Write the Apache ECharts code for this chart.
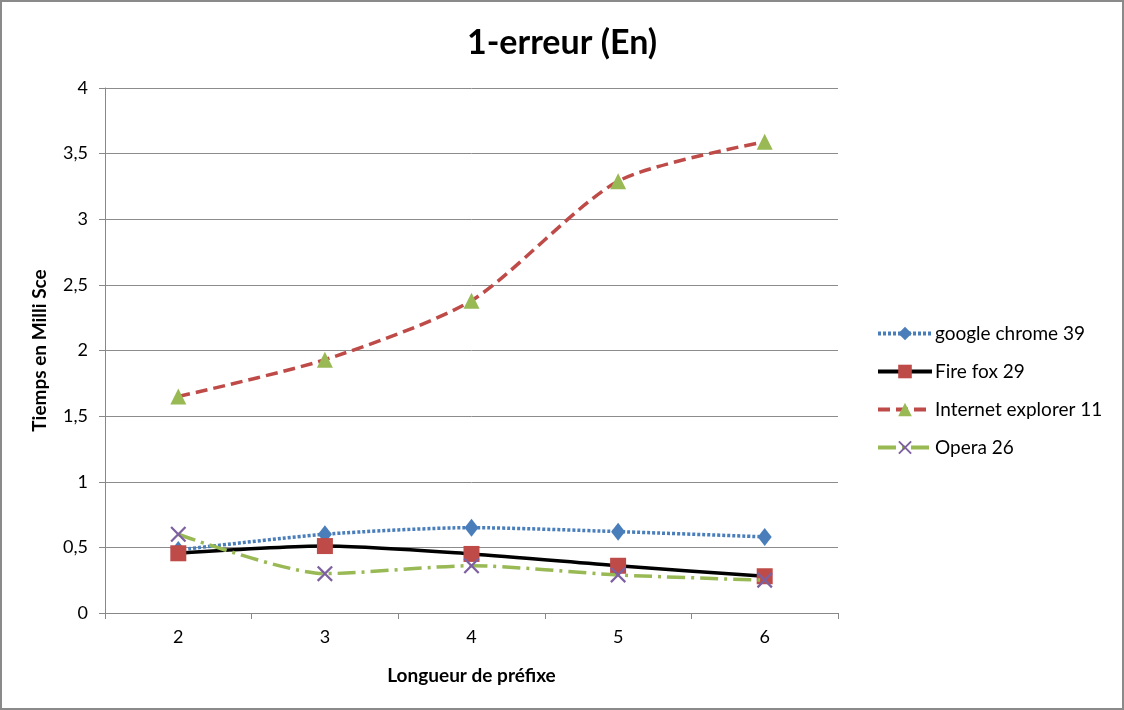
<!DOCTYPE html>
<html>
<head>
<meta charset="utf-8">
<script src="https://cdn.jsdelivr.net/npm/echarts@6/dist/echarts.min.js"></script>
<style>
  html, body { margin: 0; padding: 0; background: #fff; }
  #main { width: 1124px; height: 710px; }
</style>
</head>
<body>
<div id="main"></div>
<script>
// longueur de préfixe
var categories = ['2', '3', '4', '5', '6'];
var chrome39 = [0.48, 0.60, 0.65, 0.62, 0.58];
var firefox29 = [0.455, 0.51, 0.45, 0.36, 0.28];
var ie11 = [1.65, 1.93, 2.38, 3.29, 3.59];
var opera26 = [0.60, 0.30, 0.36, 0.29, 0.25];
var yTicks = { min: 0, max: 4, interval: 0.5 };

var fontFam = 'Lato, "Open Sans", sans-serif';
var crossPath = 'path://M0,1L1,0L5,4L9,0L10,1L6,5L10,9L9,10L5,6L1,10L0,9L4,5Z';

var myChart = echarts.init(document.getElementById('main'));
var option = {
    backgroundColor: '#fff',
    animation: false,
    graphic: [{
        type: 'rect',
        shape: { x: 1, y: 1, width: 1122, height: 708 },
        style: { fill: 'none', stroke: '#8a8a8a', lineWidth: 2 },
        silent: true
    }],
    title: {
        text: '1-erreur (En)',
        left: 'center',
        top: 21,
        textStyle: { fontFamily: fontFam, fontSize: 34, fontWeight: 'bold', color: '#000' }
    },
    grid: { left: 105, right: 286, top: 88, bottom: 97 },
    legend: {
        orient: 'vertical',
        left: 871,
        top: 319,
        itemWidth: 54,
        itemHeight: 17,
        itemGap: 19,
        lineStyle: { width: 4 },
        textStyle: { fontFamily: fontFam, fontSize: 19, color: '#000', padding: [0, 0, 0, -2] },
        data: ['google chrome 39', 'Fire fox 29', 'Internet explorer 11', 'Opera 26']
    },
    xAxis: {
        type: 'category',
        data: categories,
        boundaryGap: true,
        name: 'Longueur de préfixe',
        nameLocation: 'middle',
        nameGap: 53,
        nameTextStyle: { fontFamily: fontFam, fontSize: 19, fontWeight: 'bold', color: '#000' },
        axisLine: { lineStyle: { color: '#888', width: 1 } },
        axisTick: { show: true, length: 6, lineStyle: { color: '#888' } },
        axisLabel: { fontFamily: fontFam, fontSize: 18, color: '#000', margin: 15 }
    },
    yAxis: {
        type: 'value',
        min: yTicks.min,
        max: yTicks.max,
        interval: yTicks.interval,
        name: 'Tiemps en Milli Sce',
        nameLocation: 'middle',
        nameGap: 56,
        nameTextStyle: { fontFamily: fontFam, fontSize: 19, fontWeight: 'bold', color: '#000' },
        axisLine: { show: true, lineStyle: { color: '#888', width: 1 } },
        axisTick: { show: true, length: 6, lineStyle: { color: '#888' } },
        splitLine: { lineStyle: { color: '#8c8c8c', width: 1 } },
        axisLabel: {
            fontFamily: fontFam, fontSize: 18, color: '#000', margin: 17,
            formatter: function (v) { return String(v).replace('.', ','); }
        }
    },
    series: [
        {
            name: 'google chrome 39',
            type: 'line',
            data: chrome39,
            smooth: 0.25,
            symbol: 'diamond',
            symbolSize: [14, 18],
            itemStyle: { color: '#4a7ebb' },
            lineStyle: { color: '#4a7ebb', width: 3.5, type: [3, 2] },
            z: 3
        },
        {
            name: 'Fire fox 29',
            type: 'line',
            data: firefox29,
            smooth: 0.25,
            symbol: 'rect',
            symbolSize: 16,
            itemStyle: { color: '#be4b48' },
            lineStyle: { color: '#000', width: 3.5, type: 'solid' },
            z: 4
        },
        {
            name: 'Internet explorer 11',
            type: 'line',
            data: ie11,
            smooth: 0.25,
            symbol: 'triangle',
            symbolSize: 16,
            itemStyle: { color: '#98b954' },
            lineStyle: { color: '#be4b48', width: 3.5, type: [12, 6] },
            z: 3
        },
        {
            name: 'Opera 26',
            type: 'line',
            data: opera26,
            smooth: 0.25,
            symbol: crossPath,
            symbolSize: 16,
            itemStyle: { color: '#7d60a0' },
            lineStyle: { color: '#98b954', width: 3.5, type: [18, 6, 3, 6] },
            z: 5
        }
    ]
};
myChart.setOption(option);
</script>
</body>
</html>
